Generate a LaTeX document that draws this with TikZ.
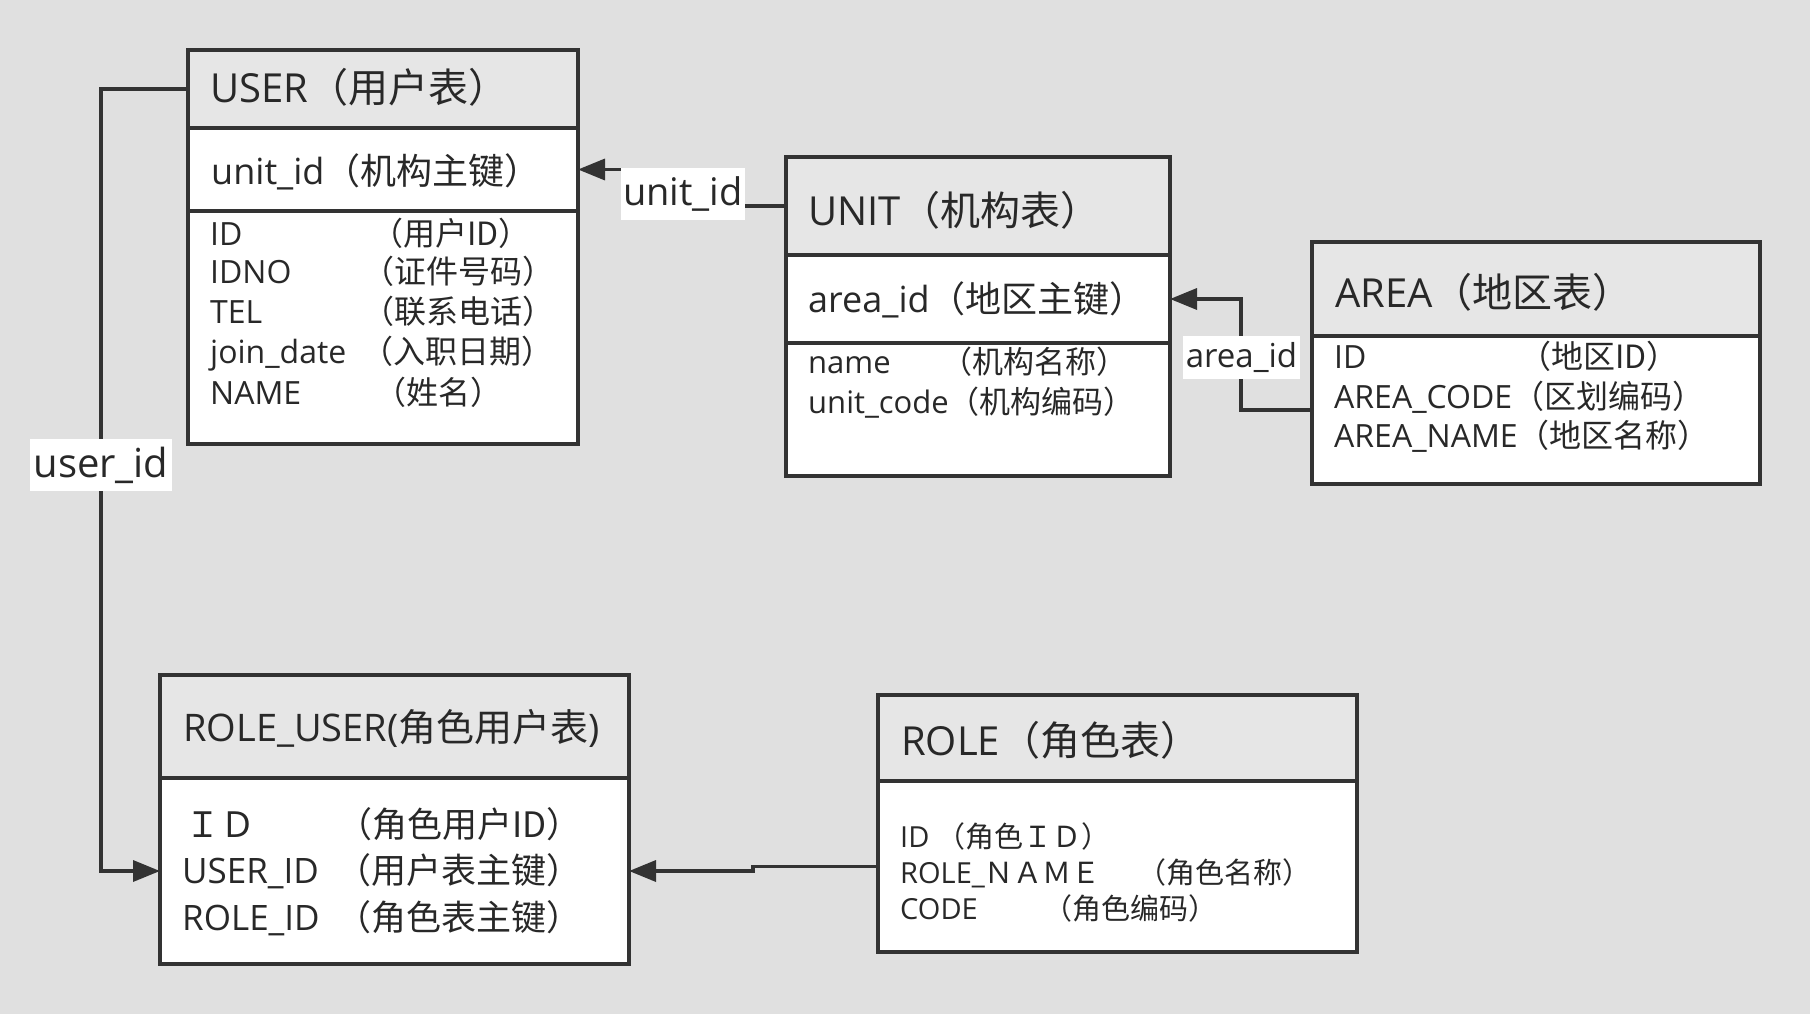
\documentclass[tikz,border=0pt]{standalone}
\usepackage{fontspec}
\setmainfont{Open Sans}
\newfontfamily\cjk{Noto Sans CJK SC}
\usetikzlibrary{arrows.meta}
\definecolor{bgc}{RGB}{224,224,224}
\definecolor{headc}{RGB}{230,230,230}
\definecolor{linec}{RGB}{51,51,51}
\definecolor{textc}{RGB}{40,40,40}
\newcommand{\fs}[1]{\fontsize{#1pt}{#1pt}\selectfont}
\tikzset{
  tbox/.style={draw=linec, line width=3.5pt, anchor=north west, inner sep=0pt, outer sep=0pt},
  thead/.style={tbox, fill=headc},
  tbody/.style={tbox, fill=white},
  txt/.style={anchor=base west, inner sep=0pt, text=textc},
  ttitle/.style={txt, font=\fs{40}},
  tkey/.style={txt, font=\fs{36}},
  tfield/.style={txt, font=\fs{32}},
  ufield/.style={txt, font=\fs{31}},
  rufield/.style={txt, font=\fs{35}},
  rofield/.style={txt, font=\fs{29}},
  conn/.style={draw=linec, line width=3.5pt, -{Triangle[length=27pt,width=21pt]}},
  clabel/.style={fill=white, inner xsep=2pt, inner ysep=0pt, text=textc}
}
\begin{document}
\begin{tikzpicture}[x=1pt,y=-1pt]
\fill[bgc] (0,0) rectangle (1810,1014);
\useasboundingbox (0,0) rectangle (1810,1014);
% USER
\node[thead, minimum width=390pt, minimum height=78pt] (userhead) at (188,50) {};
\node[tbody, minimum width=390pt, minimum height=83pt] (userkey) at (188,128) {};
\node[tbody, minimum width=390pt, minimum height=233pt] (userbody) at (188,211) {};
\node[ttitle] (usert) at (210,103) {USER{\cjk（用户表）}};
\node[tkey] (userk) at (211,185) {unit\_id{\cjk（机构主键）}};
\node[tfield] (uf1) at (210,245) {ID};
\node[tfield] (uf1b) at (371,245) {\cjk（用户ID）};
\node[tfield] (uf2) at (210,283) {IDNO};
\node[tfield] (uf2b) at (362,283) {\cjk（证件号码）};
\node[tfield] (uf3) at (210,323) {TEL};
\node[tfield] (uf3b) at (362,323) {\cjk（联系电话）};
\node[tfield] (uf4) at (210,363) {join\_date};
\node[tfield] (uf4b) at (361,363) {\cjk（入职日期）};
\node[tfield] (uf5) at (210,404) {NAME};
\node[tfield] (uf5b) at (374,404) {\cjk（姓名）};
% UNIT
\node[thead, minimum width=384pt, minimum height=98pt] (unithead) at (786,157) {};
\node[tbody, minimum width=384pt, minimum height=88pt] (unitkey) at (786,255) {};
\node[tbody, minimum width=384pt, minimum height=133pt] (unitbody) at (786,343) {};
\node[ttitle] (unitt) at (808,225) {UNIT{\cjk（机构表）}};
\node[tkey] (unitk) at (808,312) {area\_id{\cjk（地区主键）}};
\node[ufield] (nf1) at (808,373) {name};
\node[ufield] (nf1b) at (941,373) {\cjk（机构名称）};
\node[ufield] (nf2) at (808,413) {unit\_code{\cjk（机构编码）}};
% AREA
\node[thead, minimum width=448pt, minimum height=94pt] (areahead) at (1312,242) {};
\node[tbody, minimum width=448pt, minimum height=148pt] (areabody) at (1312,336) {};
\node[ttitle] (areat) at (1335,307) {AREA{\cjk（地区表）}};
\node[tfield] (af1) at (1334,368) {ID};
\node[tfield] (af1b) at (1519,368) {\cjk（地区ID）};
\node[tfield] (af2) at (1334,408) {AREA\_CODE{\cjk（区划编码）}};
\node[tfield] (af3) at (1334,447) {AREA\_NAME{\cjk（地区名称）}};
% ROLE_USER
\node[thead, minimum width=469pt, minimum height=103pt] (ruhead) at (160,675) {};
\node[tbody, minimum width=469pt, minimum height=186pt] (rubody) at (160,778) {};
\node[ttitle, font=\fs{38}] (rut) at (183,741) {ROLE\_USER({\cjk 角色用户表})};
\node[rufield] (rf1) at (185,837) {\cjk ＩＤ};
\node[rufield] (rf1b) at (337,837) {\cjk（角色用户ID）};
\node[rufield] (rf2) at (182,883) {USER\_ID};
\node[rufield] (rf2b) at (336,883) {\cjk（用户表主键）};
\node[rufield] (rf3) at (182,930) {ROLE\_ID};
\node[rufield] (rf3b) at (336,930) {\cjk（角色表主键）};
% ROLE
\node[thead, minimum width=479pt, minimum height=86pt] (rolehead) at (878,695) {};
\node[tbody, minimum width=479pt, minimum height=171pt] (rolebody) at (878,781) {};
\node[ttitle] (rolet) at (901,755) {ROLE{\cjk（角色表）}};
\node[rofield] (of1) at (900,847) {ID {\cjk（角色ＩＤ）}};
\node[rofield] (of2) at (900,883) {ROLE\_{\cjk ＮＡＭＥ}};
\node[rofield] (of2b) at (1137,883) {\cjk（角色名称）};
\node[rofield] (of3) at (900,919) {CODE};
\node[rofield] (of3b) at (1043,919) {\cjk（角色编码）};
% connectors
\draw[conn] (userhead.west) -- ++(-87,0) |- (rubody.west);
\draw[conn] (unithead.west) -- ++(-86,0) |- (userkey.east);
\draw[conn] (areabody.west) -- ++(-71,0) |- (unitkey.east);
\draw[conn] (rolebody.west) -- ++(-125,0) |- (rubody.east);
% labels
\node[clabel, font=\fs{40}, minimum width=142pt, minimum height=52pt] (lu) at (101,465) {user\_id};
\node[clabel, font=\fs{38}, minimum width=122pt, minimum height=51pt] (lunit) at (683,194) {unit\_id};
\node[clabel, font=\fs{33}, minimum width=117pt, minimum height=43pt] (larea) at (1241.5,357.5) {area\_id};
\end{tikzpicture}
\end{document}
